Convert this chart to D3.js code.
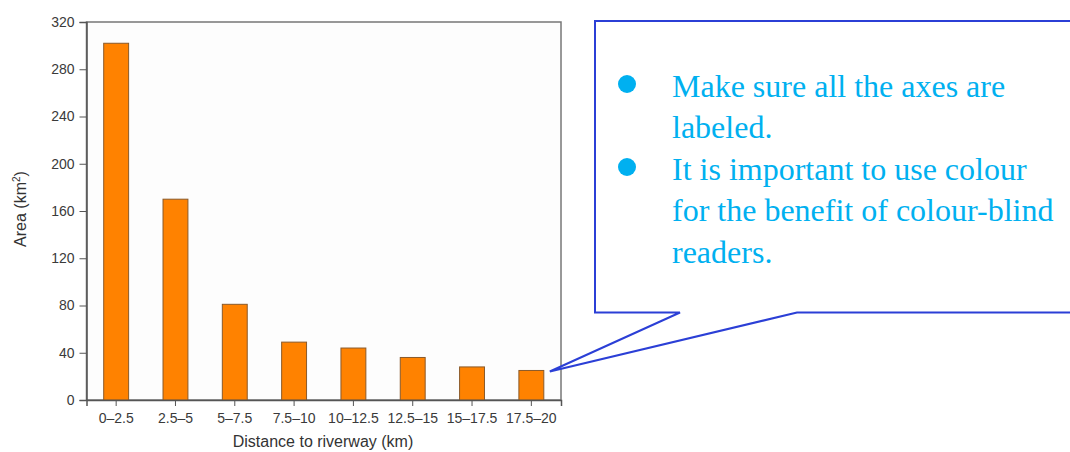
<!DOCTYPE html>
<html>
<head>
<meta charset="utf-8">
<script src="https://cdn.jsdelivr.net/npm/d3@7"></script>
<style>
  body { margin: 0; background: #fff; }
  svg { display: block; }
</style>
</head>
<body>
<svg id="chart" width="1070" height="452"></svg>
<script>
// chart data
var categories = ['0\u20132.5', '2.5\u20135', '5\u20137.5', '7.5\u201310', '10\u201312.5', '12.5\u201315', '15\u201317.5', '17.5\u201320'];
var areaValues = [302, 170, 81, 49, 44, 36, 28, 25];
var yTicks = [0, 40, 80, 120, 160, 200, 240, 280, 320];
var notes = [
    ['Make sure all the axes are', 'labeled.'],
    ['It is important to use colour', 'for the benefit of colour-blind', 'readers.']
];

var svg = d3.select('#chart');

var plot = {left: 86.5, right: 561, top: 22, bottom: 400};
var sans = 'Liberation Sans, Arial, sans-serif';

var x = d3.scaleBand()
    .domain(categories)
    .range([plot.left, plot.right])
    .paddingInner(0.58)
    .paddingOuter(0.29);

var y = d3.scaleLinear()
    .domain([0, 320])
    .range([plot.bottom, plot.top]);

// frame
svg.append('rect')
    .attr('x', plot.left).attr('y', plot.top)
    .attr('width', plot.right - plot.left).attr('height', plot.bottom - plot.top)
    .attr('fill', '#fdfdfd')
    .attr('stroke', '#777')
    .attr('stroke-width', 1.5);

// bars
svg.append('g').selectAll('rect')
    .data(areaValues)
    .enter()
    .append('rect')
    .attr('x', (d, i) => x(categories[i]))
    .attr('y', d => y(d))
    .attr('width', x.bandwidth())
    .attr('height', d => y(0) - y(d))
    .attr('fill', '#ff8200')
    .attr('stroke', '#8a5a2a')
    .attr('stroke-width', 1);

var yAxis = svg.append('g')
    .attr('transform', 'translate(' + plot.left + ',0)')
    .call(d3.axisLeft(y).tickValues(yTicks).tickSize(7).tickPadding(5));

var xAxis = svg.append('g')
    .attr('transform', 'translate(0,' + plot.bottom + ')')
    .call(d3.axisBottom(x).tickSize(6).tickPadding(7));

[xAxis, yAxis].forEach(function(g) {
    g.select('.domain').attr('stroke', '#555').attr('stroke-width', 1.5);
    g.selectAll('.tick line').attr('stroke', '#555');
    g.selectAll('.tick text')
        .attr('fill', '#3a3a3a')
        .style('font-family', sans)
        .style('font-size', '14px');
});

// axis titles
svg.append('text')
    .attr('x', 323)
    .attr('y', 447)
    .attr('text-anchor', 'middle')
    .attr('fill', '#333')
    .style('font-family', sans)
    .style('font-size', '16px')
    .text('Distance to riverway (km)');

var yTitle = svg.append('text')
    .attr('transform', 'translate(26,209) rotate(-90)')
    .attr('text-anchor', 'middle')
    .attr('fill', '#333')
    .style('font-family', sans)
    .style('font-size', '16px');
yTitle.append('tspan').text('Area (km');
yTitle.append('tspan').attr('dy', -6).style('font-size', '10px').text('2');
yTitle.append('tspan').attr('dy', 6).text(')');

// callout box with pointer to the last bar (right side runs off the page)
var lastBar = categories[categories.length - 1];
var tip = [x(lastBar) + x.bandwidth() + 6, y(areaValues[areaValues.length - 1]) + 1];
var box = {left: 595, top: 21, right: 1076, bottom: 312.5};

var callout = d3.path();
callout.moveTo(box.left, box.top);
callout.lineTo(box.right, box.top);
callout.lineTo(box.right, box.bottom);
callout.lineTo(797, box.bottom);
callout.lineTo(tip[0], tip[1]);
callout.lineTo(680, box.bottom);
callout.lineTo(box.left, box.bottom);
callout.closePath();

svg.append('path')
    .attr('d', callout.toString())
    .attr('fill', '#fff')
    .attr('stroke', '#2b3fd6')
    .attr('stroke-width', 2)
    .attr('stroke-linejoin', 'miter');

var lineH = 41.5;
var lineNo = 0;
var noteG = svg.append('g')
    .style('font-family', 'Liberation Serif, Times New Roman, serif')
    .style('font-size', '32px')
    .attr('fill', '#00b0f0');

notes.forEach(function(lines) {
    var by = 96.5 + lineNo * lineH;
    noteG.append('circle')
        .attr('cx', 627)
        .attr('cy', by - 12.5)
        .attr('r', 9);
    lines.forEach(function(t) {
        noteG.append('text')
            .attr('x', 672)
            .attr('y', 96.5 + lineNo * lineH)
            .text(t);
        lineNo++;
    });
});
</script>
</body>
</html>
